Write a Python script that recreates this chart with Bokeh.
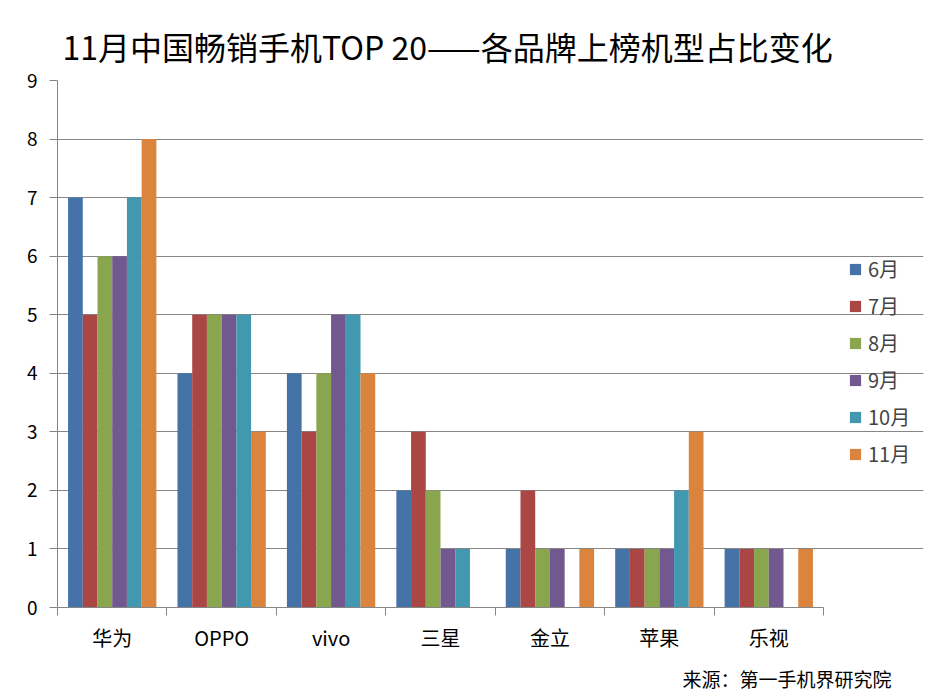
from bokeh.plotting import figure
from bokeh.models import ColumnDataSource, Range1d, FixedTicker, Legend, LegendItem, Title
from bokeh.transform import dodge
from bokeh.embed import file_html
from bokeh.resources import INLINE

brands = ["华为", "OPPO", "vivo", "三星", "金立", "苹果", "乐视"]
months = ["6月", "7月", "8月", "9月", "10月", "11月"]
m6 = [7, 4, 4, 2, 1, 1, 1]
m7 = [5, 5, 3, 3, 2, 1, 1]
m8 = [6, 5, 4, 2, 1, 1, 1]
m9 = [6, 5, 5, 1, 1, 1, 1]
m10 = [7, 5, 5, 1, 0, 2, 0]
m11 = [8, 3, 4, 0, 1, 3, 1]
y_ticks = list(range(10))
title_text = "11月中国畅销手机TOP 20——各品牌上榜机型占比变化"
source_text = "来源：第一手机界研究院"

series = [m6, m7, m8, m9, m10, m11]
colors = ["#4572A7", "#AA4643", "#89A54E", "#71588F", "#4198AF", "#DB843D"]
FONT = "Noto Sans CJK SC"
GRID = "#868686"

n = len(brands)
# plot area spans 766px for the categories; the frame extends further right for the legend
x_end = n * 866 / 766

pos = [i + 0.5 for i in range(n)]
data = {"pos": pos, "brand": brands}
for m, s in zip(months, series):
    data[m] = s
src = ColumnDataSource(data)

p = figure(frame_width=866, frame_height=527, output_backend="svg", toolbar_location=None,
           x_range=Range1d(0, x_end), y_range=Range1d(0, 9),
           min_border_left=57, min_border_right=8, min_border_top=80, min_border_bottom=60)
p.outline_line_color = None
p.background_fill_color = "white"
p.border_fill_color = "white"

p.title.text = title_text
p.title.text_font = FONT
p.title.text_font_size = "32px"
p.title.text_font_style = "normal"
p.title.text_color = "black"
p.title.align = "left"
p.title.offset = 5
p.title.standoff = 23

p.xgrid.visible = False
p.ygrid.grid_line_color = GRID
p.ygrid.ticker = FixedTicker(ticks=y_ticks)
p.ygrid.bounds = (0, n)

xa = p.xaxis[0]
xa.ticker = FixedTicker(ticks=pos, minor_ticks=list(range(n + 1)))
xa.bounds = (0, n)
xa.major_label_overrides = {pv: b for pv, b in zip(pos, brands)}
xa.major_tick_line_color = None
xa.major_tick_out = 0
xa.major_tick_in = 0
xa.minor_tick_out = 8
xa.minor_tick_in = 0
xa.minor_tick_line_color = GRID
xa.axis_line_color = GRID
xa.major_label_text_font = FONT
xa.major_label_text_font_size = "20px"
xa.major_label_text_color = "black"
xa.major_label_standoff = 7

ya = p.yaxis[0]
ya.ticker = FixedTicker(ticks=y_ticks)
ya.major_tick_out = 8
ya.major_tick_in = 0
ya.major_tick_line_color = GRID
ya.minor_tick_line_color = None
ya.axis_line_color = GRID
ya.major_label_text_font = FONT
ya.major_label_text_font_size = "19px"
ya.major_label_text_color = "black"
ya.major_label_standoff = 12

w = 0.1345
items = []
for j, (m, c) in enumerate(zip(months, colors)):
    r = p.vbar(x=dodge("pos", (j - 2.5) * w), top=m, width=w, source=src,
               fill_color=c, line_color=None)
    items.append(LegendItem(label=m, renderers=[r]))

legend = Legend(items=items, location=(791, 139), orientation="vertical",
                glyph_width=14, glyph_height=14, label_height=29, spacing=8,
                padding=0, margin=0, border_line_color=None, background_fill_alpha=0,
                label_text_font=FONT, label_text_font_size="20px", label_standoff=6)
p.add_layout(legend)

src_title = Title(text=source_text, align="right", offset=32, standoff=16,
                  text_font=FONT, text_font_size="19px", text_font_style="normal",
                  text_color="black")
p.add_layout(src_title, "below")

open("out.html", "w").write(file_html(p, INLINE))
